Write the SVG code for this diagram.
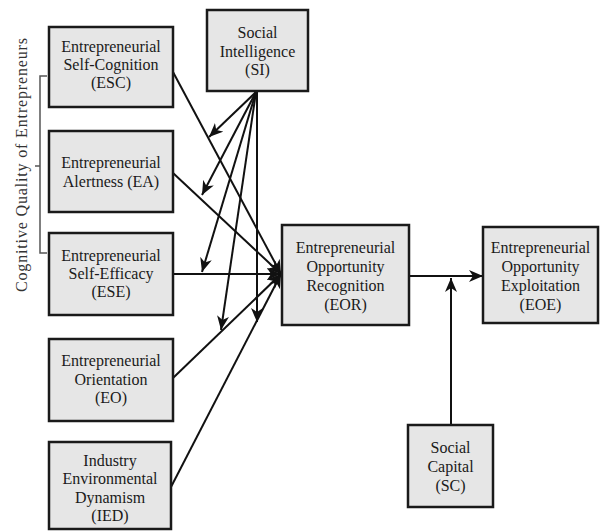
<svg xmlns="http://www.w3.org/2000/svg" width="600" height="532" viewBox="0 0 600 532">
<style>
.box{fill:#e6e6e6;stroke:#1a1a1a;stroke-width:2.5}
.t{font-family:"Liberation Serif","Times New Roman",serif;font-size:16px;fill:#1a1a1a;text-anchor:middle}
.c{stroke:#111;stroke-width:2;fill:none;marker-end:url(#ah)}
.br{stroke:#555;stroke-width:1.5;fill:none}
</style>
<defs>
<marker id="ah" markerUnits="userSpaceOnUse" markerWidth="16" markerHeight="12" refX="14" refY="6" orient="auto">
<path d="M0,0 L14,6 L0,12 L4,6 z" fill="#111"/>
</marker>
</defs>
<rect width="600" height="532" fill="#fff"/>
<g id="bracket">
<path class="br" d="M47,76 H40 V253 H47 M40,166 H35"/>
<text x="27" y="165" transform="rotate(-90 27 165)" class="t" style="font-size:16px;fill:#333" textLength="254" lengthAdjust="spacing">Cognitive Quality of Entrepreneurs</text>
</g>
<g id="connectors">
<line class="c" x1="173" y1="72" x2="281" y2="274"/>
<line class="c" x1="173" y1="173" x2="281" y2="274"/>
<line class="c" x1="173" y1="274" x2="281" y2="274"/>
<line class="c" x1="173" y1="378" x2="281" y2="274"/>
<line class="c" x1="171" y1="487" x2="281" y2="274"/>
<line class="c" x1="256" y1="92" x2="209" y2="137"/>
<line class="c" x1="256" y1="92" x2="202" y2="195"/>
<line class="c" x1="256" y1="92" x2="202" y2="272"/>
<line class="c" x1="256" y1="92" x2="221" y2="330"/>
<line class="c" x1="257" y1="92" x2="257" y2="322"/>
<line class="c" x1="409" y1="276" x2="483" y2="276"/>
<line class="c" x1="451" y1="425" x2="451" y2="278"/>
</g>
<g id="ESC">
<rect class="box" x="49" y="27" width="124" height="80"/>
<text class="t" x="111" y="52">Entrepreneurial</text>
<text class="t" x="111" y="70">Self-Cognition</text>
<text class="t" x="111" y="88">(ESC)</text>
</g>
<g id="EA">
<rect class="box" x="49" y="131" width="124" height="81"/>
<text class="t" x="111" y="168">Entrepreneurial</text>
<text class="t" x="111" y="187">Alertness (EA)</text>
</g>
<g id="ESE">
<rect class="box" x="49" y="233" width="124" height="82"/>
<text class="t" x="111" y="261">Entrepreneurial</text>
<text class="t" x="111" y="279">Self-Efficacy</text>
<text class="t" x="111" y="297">(ESE)</text>
</g>
<g id="EO">
<rect class="box" x="49" y="339" width="124" height="82"/>
<text class="t" x="111" y="366">Entrepreneurial</text>
<text class="t" x="111" y="385">Orientation</text>
<text class="t" x="111" y="403">(EO)</text>
</g>
<g id="IED">
<rect class="box" x="49" y="442" width="122" height="87"/>
<text class="t" x="110" y="466">Industry</text>
<text class="t" x="110" y="484">Environmental</text>
<text class="t" x="110" y="503">Dynamism</text>
<text class="t" x="110" y="521">(IED)</text>
</g>
<g id="SI">
<rect class="box" x="207" y="10" width="101" height="81"/>
<text class="t" x="257.5" y="38">Social</text>
<text class="t" x="257.5" y="57">Intelligence</text>
<text class="t" x="257.5" y="75">(SI)</text>
</g>
<g id="EOR">
<rect class="box" x="282" y="225" width="127" height="100"/>
<text class="t" x="345.5" y="253">Entrepreneurial</text>
<text class="t" x="345.5" y="272">Opportunity</text>
<text class="t" x="345.5" y="291">Recognition</text>
<text class="t" x="345.5" y="310">(EOR)</text>
</g>
<g id="EOE">
<rect class="box" x="483" y="227" width="115" height="96"/>
<text class="t" x="540.5" y="253">Entrepreneurial</text>
<text class="t" x="540.5" y="272">Opportunity</text>
<text class="t" x="540.5" y="291">Exploitation</text>
<text class="t" x="540.5" y="310">(EOE)</text>
</g>
<g id="SC">
<rect class="box" x="408" y="425" width="85" height="82"/>
<text class="t" x="450.5" y="453">Social</text>
<text class="t" x="450.5" y="472">Capital</text>
<text class="t" x="450.5" y="491">(SC)</text>
</g>
</svg>
